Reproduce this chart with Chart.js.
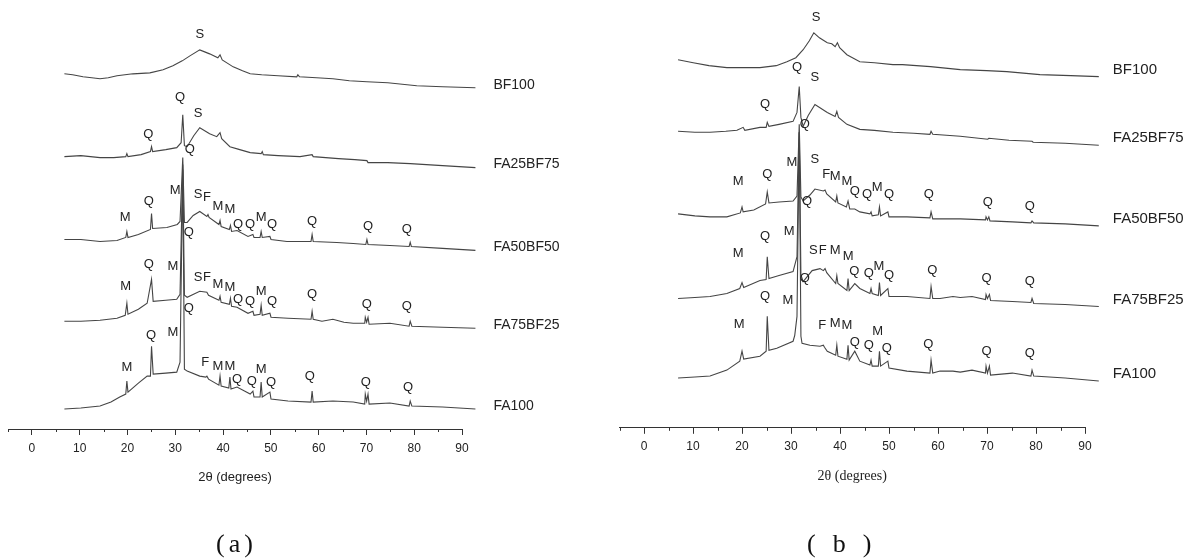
<!DOCTYPE html>
<html>
<head>
<meta charset="utf-8">
<script src="https://cdn.jsdelivr.net/npm/chart.js@4.4.1/dist/chart.umd.min.js"></script>
<style>
  html, body { margin: 0; padding: 0; background: #fff; }
  body { width: 1197px; height: 558px; position: relative; overflow: hidden; }
  .panel { position: absolute; top: 0; height: 558px; }
  #pa { left: 0; width: 598px; }
  #pb { left: 598px; width: 599px; }
  .cap { position: absolute; top: 529px; font-family: "Liberation Serif", "Times New Roman", serif;
         font-size: 26px; color: #111; white-space: nowrap; display: flex; }
  .cap span { display: block; }
</style>
</head>
<body>
<div class="panel" id="pa"><canvas id="ca" width="598" height="558"></canvas></div>
<div class="panel" id="pb"><canvas id="cb" width="599" height="558"></canvas></div>
<div class="cap" style="left:216px"><span>(</span><span style="margin:0 4px">a</span><span>)</span></div>
<div class="cap" style="left:807px"><span>(</span><span style="margin:0 17px">b</span><span>)</span></div>

<script>
/* ── Shared labels / ticks ── */
const sampleNames = ["BF100", "FA25BF75", "FA50BF50", "FA75BF25", "FA100"];
const majorTicks = [0, 10, 20, 30, 40, 50, 60, 70, 80, 90];
const minorTicks = [-5, 5, 15, 25, 35, 45, 55, 65, 75, 85];

/* ── Panel (a): [2theta, intensity above stack offset] ── */
const offsetsA = [342, 262, 179, 101, 20];
const bf100A = [[5,14],[6.5,13],[8.4,11],[10,10],[11.5,9],[13,10],[14.6,12],[17.5,14],[20.6,15],[23,18],[24.8,22],[26.5,27],[27.9,32],[29.7,38],[30.6,36],[31.5,34],[33.0,30],[33.4,33],[33.8,28],[35.8,21],[37.5,17],[38.9,14],[41,13],[44,12],[47.4,11],[47.6,13],[47.9,11],[51,10],[54,9],[57,7],[60.2,6],[64,5],[69.3,2],[74,1],[80,0]];
const fa25bf75A = [[5,11],[8,12],[11.5,10],[14,10],[16.2,11],[16.4,14],[16.6,11],[19,13],[20.7,16],[20.9,21],[21.1,16],[23.5,18],[25.5,20],[26.3,25],[26.6,53],[26.9,22],[27.4,21],[28.6,32],[29.7,40],[31.5,34],[32.8,31],[33.4,35],[33.7,29],[35.2,21],[37,18],[38.9,15],[40.9,14],[41.1,16],[41.3,13],[44,12],[48,11],[50.2,13],[50.4,11],[55,9],[58,8],[60.2,7],[60.4,5],[64,5],[68.1,4],[74,2],[80,0]];
const fa50bf50A = [[5,11],[8,11],[11.5,9],[14.6,10],[16.2,13],[16.4,19],[16.6,13],[18.5,16],[20.7,21],[20.9,37],[21.1,22],[23.7,23],[25.6,26],[26.1,29],[26.6,93],[26.9,28],[27.4,28],[28.5,35],[29.7,39],[31.0,34],[31.2,36],[31.4,33],[33.2,26],[33.4,30],[33.6,24],[35.1,21],[35.3,25],[35.5,19],[36.5,20],[38.5,14],[39.4,16],[39.6,13],[40.7,13],[40.9,19],[41.1,13],[42.5,14],[42.7,11],[45.6,9],[50.0,9],[50.2,16],[50.4,9],[54.7,8],[57.7,7],[60.0,6],[60.2,11],[60.4,6],[64.4,5],[67.9,4],[68.1,8],[68.3,4],[74,2],[80,0]];
const fa75bf25A = [[5,7],[8,7],[11.5,8],[14.6,10],[16.1,13],[16.4,25],[16.6,14],[18.5,19],[20.1,25],[20.9,49],[21.2,27],[23.5,28],[25.5,29],[26.1,34],[26.6,164],[26.9,33],[27.4,31],[29.7,37],[31.0,36],[31.3,33],[33.2,28],[33.4,32],[33.6,26],[35.1,24],[35.3,30],[35.5,22],[36.5,21],[38.5,15],[39.4,17],[39.6,13],[40.7,14],[40.9,23],[41.1,13],[42.5,15],[42.7,11],[45.8,10],[50.0,9],[50.2,17],[50.4,9],[52,7],[54,9],[56,6],[57.7,5],[59.8,5],[59.9,11],[60.15,6],[60.4,11],[60.6,4],[64.4,5],[67.9,2],[68.1,7],[68.4,2],[74,1],[80,0]];
const fa100A = [[5,0],[8,1],[11.5,3],[13.5,7],[15.1,12],[16.2,15],[16.4,28],[16.6,17],[18.5,26],[20.1,33],[20.7,33],[20.9,63],[21.2,35],[23.5,36],[25.5,37],[26.1,47],[26.6,240],[26.9,40],[27.4,38],[29.7,33],[30.8,32],[31.0,33],[31.3,30],[33.2,24],[33.4,33],[33.6,23],[35.0,21],[35.2,32],[35.4,20],[36.5,22],[38.9,15],[39.4,18],[39.6,12],[40.7,12],[40.9,27],[41.1,12],[42.5,17],[42.7,10],[45.8,8],[50.0,7],[50.2,18],[50.4,7],[54,8],[57.7,7],[59.8,5],[59.9,15],[60.15,8],[60.4,15],[60.6,5],[64.4,6],[67.9,3],[68.1,8],[68.4,3],[74,2],[80,0]];
// phase letters: [letter, 2theta, height]
const peaksA = [
  ["S",29.7,395],
  ["Q",26.1,332],["S",29.4,316],["Q",27.9,280],["Q",20.3,295],
  ["M",16.1,212],["Q",20.4,228],["M",25.2,239],["S",29.4,235],["F",31.0,232],["M",33.0,223],["M",35.2,220],["Q",36.7,205],["Q",38.9,205],["M",40.9,212],["Q",42.9,205],["Q",27.7,197],["Q",50.2,208],["Q",60.4,203],["Q",67.5,200],
  ["M",16.2,143],["Q",20.4,165],["M",24.8,163],["S",29.4,152],["F",31.0,152],["M",33.0,145],["M",35.2,142],["Q",36.7,130],["Q",38.9,128],["M",40.9,138],["Q",42.9,128],["Q",27.7,121],["Q",50.2,135],["Q",60.2,125],["Q",67.5,123],
  ["M",16.4,62],["Q",20.8,94],["M",24.8,97],["F",30.7,67],["M",33.0,63],["M",35.2,63],["Q",36.5,50],["Q",39.2,48],["M",40.9,60],["Q",42.7,47],["Q",49.8,53],["Q",60.0,47],["Q",67.7,42]
];

/* ── Panel (b) ── */
const offsetsB = [353, 284, 203, 122, 47];
const bf100B = [[5,17],[7.7,14],[10.5,11],[13.7,9],[16.5,9],[19.6,9],[22.5,11],[24.4,15],[26,19],[27.3,27],[28.4,36],[29.2,44],[30.2,39],[31.6,34],[32.4,33],[33.0,30],[33.4,34],[33.8,29],[35.1,22],[37.4,15],[40,14],[43.3,12],[45,12],[50,10],[55.3,7],[60,6],[63.6,5],[69.5,2],[75,1],[80,0]];
const fa25bf75B = [[5,14],[8,13],[10.7,13],[13.5,14],[15.5,15],[16.6,18],[16.9,15],[19.6,18],[20.7,18],[20.9,23],[21.2,19],[23,21],[25.5,24],[26.2,33],[26.6,59],[26.9,28],[27.3,19],[28.2,30],[29.4,41],[30.5,37],[31.6,33],[33.0,29],[33.3,34],[33.6,28],[35.1,21],[37.4,16],[40,15],[43.3,13],[47,12],[49.9,11],[50.1,14],[50.4,11],[55.3,9],[60.2,6],[60.4,7],[64,5],[68.1,4],[68.3,3],[74,2],[80,0]];
const fa50bf50B = [[5,12],[8,10],[10.7,9],[13.7,9],[16.1,13],[16.4,19],[16.6,14],[18.5,16],[20.6,22],[20.9,34],[21.2,23],[23,24],[25.5,25],[26.2,30],[26.6,102],[26.9,29],[27.3,25],[28.5,31],[29.4,37],[30.9,35],[31.2,36],[31.5,32],[33.1,24],[33.3,30],[33.5,23],[35.0,19],[35.3,25],[35.6,17],[36.5,17],[37.4,14],[39.2,12],[39.4,14],[39.6,10],[40.7,11],[40.9,19],[41.1,10],[42.4,14],[42.6,9],[45.8,9],[49.9,8],[50.1,14],[50.4,7],[55.3,7],[59.8,6],[59.9,9],[60.15,6],[60.4,9],[60.6,5],[64.6,4],[67.9,3],[68.1,5],[68.4,3],[74,2],[80,0]];
const fa75bf25B = [[5,8],[8,9],[10.7,10],[13.7,13],[16.0,18],[16.4,24],[16.7,19],[19.6,26],[20.7,27],[20.9,50],[21.2,28],[23,31],[25.5,35],[26.2,50],[26.6,175],[26.9,32],[27.3,25],[28.9,36],[30.3,38],[30.9,36],[31.2,38],[31.5,34],[33.1,23],[33.3,31],[33.5,23],[35.1,16],[35.3,28],[35.5,16],[36.5,23],[37.4,18],[39.2,13],[39.4,18],[39.6,13],[40.7,11],[40.9,24],[41.1,11],[42.4,18],[42.6,10],[45.8,10],[49.9,8],[50.1,20],[50.4,8],[51.7,8],[54,10],[55.3,9],[57.4,10],[59.8,7],[59.9,12],[60.15,8],[60.5,12],[60.7,6],[64.6,5],[67.9,4],[68.1,8],[68.4,3],[74,2],[80,0]];
const fa100B = [[5,3],[8,4],[10.7,5],[13.7,11],[16.0,20],[16.4,30],[16.7,22],[19.6,25],[20.7,30],[20.9,65],[21.2,31],[22.6,33],[25.5,40],[25.8,46],[26.2,65],[26.6,250],[26.9,45],[27.1,38],[28.5,36],[30.3,35],[30.9,36],[31.1,34],[31.6,30],[33.1,26],[33.3,36],[33.5,25],[35.1,22],[35.3,36],[35.5,21],[36.5,30],[37.4,20],[39.2,16],[39.4,21],[39.6,15],[40.7,15],[40.9,30],[41.1,15],[42.4,20],[42.6,13],[45.8,10],[49.9,8],[50.1,21],[50.4,8],[51.7,10],[54,10],[55.3,9],[57.4,11],[59.8,8],[59.9,15],[60.15,8],[60.5,15],[60.7,6],[64.6,8],[67.9,5],[68.1,11],[68.4,5],[74,3],[80,0]];
const peaksB = [
  ["S",29.6,412],
  ["Q",26.2,362],["S",29.4,352],["Q",20.5,325],["Q",27.6,305],
  ["M",15.7,248],["Q",20.9,255],["M",25.3,267],["S",29.4,270],["F",31.4,255],["M",33.0,253],["M",35.1,248],["Q",36.5,238],["Q",38.7,235],["M",40.5,242],["Q",42.6,235],["Q",49.7,235],["Q",28.0,228],["Q",60.2,227],["Q",67.7,223],
  ["M",15.7,175],["Q",20.5,192],["M",24.8,197],["S",29.1,178],["F",30.8,178],["M",33.0,178],["M",35.3,172],["Q",36.4,157],["Q",39.0,155],["M",40.8,162],["Q",42.6,153],["Q",50.3,158],["Q",27.6,150],["Q",60.0,150],["Q",67.7,147],
  ["M",15.9,104],["Q",20.5,132],["M",24.6,128],["F",30.7,103],["M",33.0,105],["M",35.1,103],["Q",36.5,86],["Q",39.0,83],["M",40.6,97],["Q",42.2,80],["Q",49.6,84],["Q",60.0,77],["Q",67.7,75]
];

/* ── Build one XRD panel ── */
function buildPanel(canvasId, traces, offsets, peaks, o) {
  const datasets = traces.map((t, i) => ({
    data: t.map(p => ({ x: p[0], y: offsets[i] + p[1] })),
    xAxisID: "xd", yAxisID: "y",
    borderColor: "#454545", borderWidth: 1.1,
    pointRadius: 0, tension: 0, clip: false
  }));

  const overlay = {
    id: "overlay",
    afterDraw(chart) {
      const ctx = chart.ctx, xd = chart.scales.xd, y = chart.scales.y, x = chart.scales.x;
      ctx.save();
      ctx.fillStyle = "#222";
      ctx.textAlign = "center";
      ctx.textBaseline = "middle";
      ctx.font = "13px 'Liberation Sans', Arial, sans-serif";
      peaks.forEach(p => ctx.fillText(p[0], xd.getPixelForValue(p[1]), y.getPixelForValue(p[2])));

      ctx.textAlign = "left";
      ctx.font = o.nameFont;
      sampleNames.forEach((n, i) => {
        ctx.fillText(n, xd.getPixelForValue(80) + o.nameDx, y.getPixelForValue(offsets[i]) + o.nameDy);
      });

      // short minor ticks
      ctx.strokeStyle = "#333";
      ctx.lineWidth = 1;
      minorTicks.forEach(v => {
        const px = Math.round(x.getPixelForValue(v)) + 0.5;
        ctx.beginPath();
        ctx.moveTo(px, x.top);
        ctx.lineTo(px, x.top + 3);
        ctx.stroke();
      });
      ctx.restore();
    }
  };

  return new Chart(document.getElementById(canvasId), {
    type: "line",
    data: { datasets },
    options: {
      responsive: false,
      animation: false,
      events: [],
      layout: { padding: { left: o.padL, right: o.padR, top: 0, bottom: 73 } },
      plugins: { legend: { display: false }, tooltip: { enabled: false } },
      scales: {
        x: {
          type: "linear", position: "bottom", min: -5, max: 90,
          afterBuildTicks: s => {
            s.ticks = majorTicks.concat(minorTicks).sort((a, b) => a - b).map(v => ({ value: v }));
          },
          ticks: {
            autoSkip: false, maxRotation: 0, padding: 6, color: "#222",
            font: { family: "'Liberation Sans', Arial, sans-serif", size: 12 },
            callback: v => majorTicks.includes(v) ? String(v) : ""
          },
          grid: {
            drawOnChartArea: false, drawTicks: true, tickLength: 6,
            tickColor: c => majorTicks.includes(c.tick.value) ? "#333" : "rgba(0,0,0,0)"
          },
          border: { display: true, color: "#333", width: 1 },
          title: {
            display: true, text: "2θ (degrees)", color: "#222",
            font: o.titleFont, padding: { top: 8, bottom: 0 }
          }
        },
        xd: { type: "linear", display: false, min: o.dMin, max: o.dMax },
        y: { type: "linear", display: false, min: 0, max: 430 }
      }
    },
    plugins: [overlay]
  });
}

buildPanel("ca", [bf100A, fa25bf75A, fa50bf50A, fa75bf25A, fa100A], offsetsA, peaksA, {
  padL: 8, padR: 136, dMin: -5.29, dMax: 77.55,
  nameFont: "14px 'Liberation Sans', Arial, sans-serif", nameDx: 18, nameDy: -3,
  titleFont: { family: "'Liberation Sans', Arial, sans-serif", size: 13 }
});

buildPanel("cb", [bf100B, fa25bf75B, fa50bf50B, fa75bf25B, fa100B], offsetsB, peaksB, {
  padL: 21.5, padR: 112, dMin: -5.44, dMax: 77.54,
  nameFont: "15px 'Liberation Sans', Arial, sans-serif", nameDx: 14, nameDy: -7,
  titleFont: { family: "'Liberation Serif', 'Times New Roman', serif", size: 14 }
});
</script>
</body>
</html>
